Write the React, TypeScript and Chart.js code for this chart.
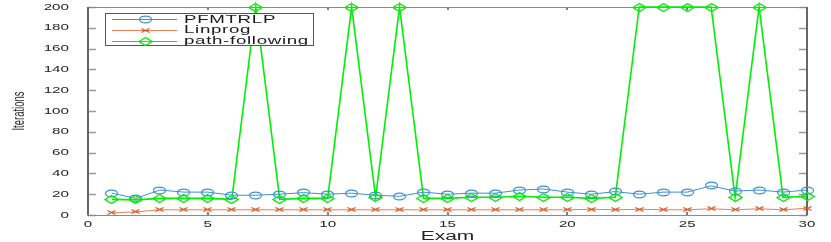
import React, { useEffect, useRef } from "react";
import { Chart, registerables } from "chart.js";

Chart.register(...registerables);

const exams = Array.from({ length: 30 }, (_, i) => i + 1);
const pfmtrlp = [21, 16, 24, 22, 22, 19, 19, 20, 21.5, 20, 21, 19, 18, 22, 20, 21, 21, 24, 25, 22, 20, 22.5, 20, 22, 22, 28, 23, 24, 22, 24];
const linprog = [2, 3, 5, 5, 5, 5, 5, 5, 5, 5, 5, 5, 5, 5, 5, 5, 5, 5, 5, 5, 5.5, 5, 5.5, 5, 5, 6, 5, 6, 5, 6.5];
const pathFollowing = [15, 14.5, 16, 16, 16, 15, 200, 15, 16, 16, 200, 17, 200, 16, 16, 17, 17, 18, 17, 17, 16, 17, 200, 200, 200, 200, 17, 200, 17, 18];
const xTicks = [0, 5, 10, 15, 20, 25, 30];
const yTicks = [0, 20, 40, 60, 80, 100, 120, 140, 160, 180, 200];
const seriesNames = ["PFMTRLP", "Linprog", "path-following"];

const BLUE = "#3d8fd8";
const ORANGE = "rgba(224,105,60,0.85)";
const GREEN = "#00f000";
const SX = 1.7;

function mk(w: number, h: number, draw: (c: CanvasRenderingContext2D) => void) {
  const cv = document.createElement("canvas");
  cv.width = w;
  cv.height = h;
  const c = cv.getContext("2d")!;
  draw(c);
  return cv;
}

function ellipseMarker(color: string) {
  return mk(15, 9, (c) => {
    c.strokeStyle = color;
    c.lineWidth = 1.2;
    c.beginPath();
    c.ellipse(7.5, 4.5, 6, 3.4, 0, 0, Math.PI * 2);
    c.stroke();
  });
}
function diamondMarker(color: string) {
  return mk(15, 11, (c) => {
    c.strokeStyle = color;
    c.lineWidth = 1.3;
    c.beginPath();
    c.moveTo(1, 5.5);
    c.lineTo(7.5, 1.5);
    c.lineTo(14, 5.5);
    c.lineTo(7.5, 9.5);
    c.closePath();
    c.stroke();
  });
}
function crossMarker(color: string) {
  return mk(11, 7, (c) => {
    c.strokeStyle = color;
    c.lineWidth = 1.2;
    c.beginPath();
    c.moveTo(1.5, 1.5);
    c.lineTo(9.5, 5.5);
    c.moveTo(1.5, 5.5);
    c.lineTo(9.5, 1.5);
    c.stroke();
  });
}

function txt(
  ctx: CanvasRenderingContext2D,
  s: string,
  x: number,
  y: number,
  size: number,
  sx: number,
  align: CanvasTextAlign,
  color = "#262626"
) {
  ctx.save();
  ctx.translate(x, y);
  ctx.scale(sx, 1);
  ctx.font = `${size}px "Liberation Sans", Arial, sans-serif`;
  ctx.fillStyle = color;
  ctx.textAlign = align;
  ctx.textBaseline = "middle";
  ctx.fillText(s, 0, 0);
  ctx.restore();
}

export default function App() {
  const ref = useRef<HTMLCanvasElement>(null);

  useEffect(() => {
    if (!ref.current) return;
    const mBlue = ellipseMarker(BLUE);
    const mOrange = crossMarker("#d9531e");
    const mGreen = diamondMarker(GREEN);
    const markers = [mBlue, mOrange, mGreen];
    const colors = [BLUE, ORANGE, GREEN];

    const axesPlugin = {
      id: "matlabAxes",
      beforeDatasetsDraw(chart: any) {
        const ctx = chart.ctx as CanvasRenderingContext2D;
        const { left, right, top, bottom } = chart.chartArea;
        const xs = chart.scales.x;
        const ys = chart.scales.y;
        ctx.save();
        ctx.strokeStyle = "#9a9a9a";
        ctx.lineWidth = 1.5;
        for (const v of yTicks) {
          const py = Math.round(ys.getPixelForValue(v)) + 0.5;
          ctx.beginPath();
          ctx.moveTo(left, py);
          ctx.lineTo(left + 8, py);
          ctx.moveTo(right, py);
          ctx.lineTo(right - 8, py);
          ctx.stroke();
        }
        ctx.strokeStyle = "#555";
        ctx.lineWidth = 1.5;
        for (const v of xTicks) {
          const px = Math.round(xs.getPixelForValue(v));
          ctx.beginPath();
          ctx.moveTo(px, bottom);
          ctx.lineTo(px, bottom - 3);
          ctx.moveTo(px, top);
          ctx.lineTo(px, top + 3);
          ctx.stroke();
        }
        ctx.strokeStyle = "#8a8a8a";
        ctx.lineWidth = 1;
        ctx.beginPath();
        ctx.moveTo(left, Math.round(top) + 0.5);
        ctx.lineTo(right, Math.round(top) + 0.5);
        ctx.moveTo(left, Math.round(bottom) + 0.5);
        ctx.lineTo(right, Math.round(bottom) + 0.5);
        ctx.stroke();
        ctx.strokeStyle = "#666";
        ctx.lineWidth = 2;
        ctx.beginPath();
        ctx.moveTo(left, top);
        ctx.lineTo(left, bottom + 0.5);
        ctx.moveTo(right, top);
        ctx.lineTo(right, bottom + 0.5);
        ctx.stroke();
        ctx.restore();
      },
      afterDatasetsDraw(chart: any) {
        const ctx = chart.ctx as CanvasRenderingContext2D;
        for (let d = 0; d < 3; d++) {
          const meta = chart.getDatasetMeta(d);
          const m = markers[d];
          for (const el of meta.data) {
            ctx.drawImage(m, Math.round(el.x - m.width / 2), Math.round(el.y - m.height / 2));
          }
        }
      },
      afterDraw(chart: any) {
        const ctx = chart.ctx as CanvasRenderingContext2D;
        const { left, right, top, bottom } = chart.chartArea;
        const xs = chart.scales.x;
        const ys = chart.scales.y;
        for (const v of yTicks) {
          txt(ctx, String(v), left - 19, ys.getPixelForValue(v), 9.5, 1.6, "right");
        }
        for (const v of xTicks) {
          txt(ctx, String(v), xs.getPixelForValue(v), bottom + 9, 9.5, 1.6, "center");
        }
        txt(ctx, "Exam", (left + right) / 2, bottom + 22, 12, 1.75, "center");
        ctx.save();
        ctx.translate(20, (top + bottom) / 2);
        ctx.rotate(-Math.PI / 2);
        ctx.scale(1, SX);
        ctx.font = `9.5px "Liberation Sans", Arial, sans-serif`;
        ctx.fillStyle = "#262626";
        ctx.textAlign = "center";
        ctx.textBaseline = "middle";
        ctx.fillText("Iterations", 0, 0);
        ctx.restore();
        // legend
        const bx = 105, by = 13.5, bw = 208, bh = 32;
        ctx.save();
        ctx.fillStyle = "#fff";
        ctx.fillRect(bx, by, bw, bh);
        ctx.strokeStyle = "#555";
        ctx.lineWidth = 1;
        ctx.strokeRect(bx + 0.5, by, bw, bh);
        for (let i = 0; i < 3; i++) {
          const ry = by + 5.5 + i * 10.8;
          ctx.strokeStyle = colors[i];
          ctx.lineWidth = i === 2 ? 1.2 : 1;
          ctx.beginPath();
          ctx.moveTo(112, Math.round(ry) + 0.5);
          ctx.lineTo(177, Math.round(ry) + 0.5);
          ctx.stroke();
          const m = markers[i];
          ctx.drawImage(m, Math.round(145 - m.width / 2), Math.round(ry + 0.5 - m.height / 2));
          ctx.save();
          ctx.translate(184, ry + 0.5);
          ctx.scale(1.7, 1);
          ctx.font = `11px "Liberation Sans", Arial, sans-serif`;
          (ctx as any).letterSpacing = "0.4px";
          ctx.fillStyle = "#1a1a1a";
          ctx.textAlign = "left";
          ctx.textBaseline = "middle";
          ctx.fillText(seriesNames[i], 0, 0);
          ctx.restore();
        }
        ctx.restore();
      },
    };

    const chart = new Chart(ref.current, {
      type: "line",
      data: {
        labels: exams,
        datasets: [
          {
            label: seriesNames[0],
            data: exams.map((x, i) => ({ x, y: pfmtrlp[i] })),
            borderColor: BLUE,
            borderWidth: 1,
            pointRadius: 0,
            clip: false as any,
          },
          {
            label: seriesNames[1],
            data: exams.map((x, i) => ({ x, y: linprog[i] })),
            borderColor: ORANGE,
            borderWidth: 1,
            pointRadius: 0,
            clip: false as any,
          },
          {
            label: seriesNames[2],
            data: exams.map((x, i) => ({ x, y: pathFollowing[i] })),
            borderColor: GREEN,
            borderWidth: 1.6,
            pointRadius: 0,
            clip: false as any,
          },
        ],
      },
      options: {
        animation: false,
        responsive: false,
        devicePixelRatio: 1,
        layout: { padding: { left: 88, right: 24, top: 7, bottom: 27 } },
        plugins: { legend: { display: false }, tooltip: { enabled: false } },
        elements: { line: { tension: 0 } },
        scales: {
          x: { type: "linear", min: 0, max: 30, display: false },
          y: { type: "linear", min: 0, max: 200, display: false },
        },
      },
      plugins: [axesPlugin],
    });
    return () => chart.destroy();
  }, []);

  return (
    <div style={{ position: "absolute", left: 0, top: 0, width: 831, height: 242, background: "#fff" }}>
      <canvas ref={ref} width={831} height={242} style={{ display: "block" }} />
    </div>
  );
}
